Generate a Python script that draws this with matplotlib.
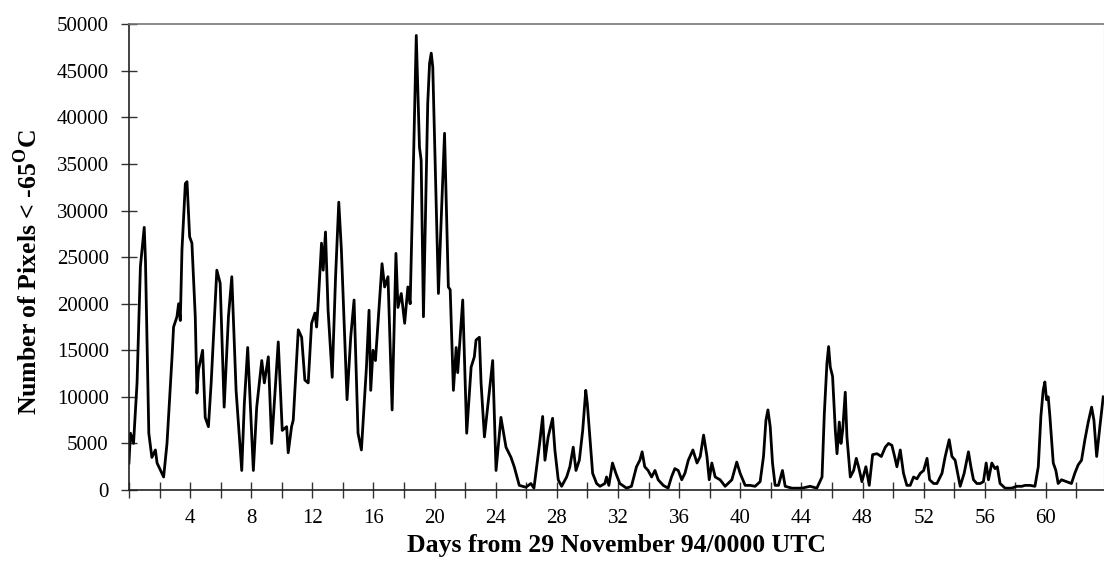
import matplotlib
matplotlib.use("Agg")
import matplotlib.pyplot as plt
from matplotlib.ticker import MultipleLocator, FixedLocator

# cold cloud pixel counts (< -65 C), days from 29 Nov 94 00 UTC
days = [
    0.0, 0.1, 0.3, 0.53, 0.75, 1.0, 1.08, 1.3, 1.5, 1.73, 1.84, 2.27, 2.49,
    2.82, 2.92, 3.14, 3.25, 3.36, 3.47, 3.69, 3.8, 3.97, 4.12, 4.34, 4.45,
    4.55, 4.82, 4.99, 5.2, 5.38, 5.75, 5.97, 6.23, 6.51, 6.73, 7.01, 7.38,
    7.55, 7.77, 7.92, 8.14, 8.36, 8.69, 8.86, 9.12, 9.34, 9.77, 10.03, 10.32,
    10.42, 10.64, 10.75, 11.08, 11.3, 11.51, 11.73, 11.95, 12.17, 12.28,
    12.38, 12.6, 12.71, 12.86, 13.03, 13.3, 13.52, 13.73, 13.9, 14.27, 14.51,
    14.73, 14.99, 15.21, 15.54, 15.71, 15.82, 15.97, 16.13, 16.56, 16.73,
    16.95, 17.22, 17.47, 17.6, 17.82, 18.04, 18.25, 18.4, 18.58, 18.8, 18.9,
    19.01, 19.12, 19.27, 19.55, 19.67, 19.78, 19.88, 20.25, 20.43, 20.65,
    20.9, 21.02, 21.23, 21.41, 21.51, 21.84, 22.1, 22.39, 22.6, 22.71, 22.93,
    23.04, 23.26, 23.54, 23.8, 24.02, 24.34, 24.67, 25.0, 25.21, 25.54,
    25.97, 26.3, 26.5, 26.87, 27.07, 27.22, 27.43, 27.72, 27.87, 28.09,
    28.31, 28.64, 28.85, 29.07, 29.25, 29.47, 29.69, 29.89, 29.99, 30.16,
    30.34, 30.6, 30.82, 31.14, 31.25, 31.4, 31.64, 31.86, 32.12, 32.56,
    32.88, 33.21, 33.43, 33.58, 33.75, 33.97, 34.2, 34.42, 34.63, 34.96,
    35.28, 35.5, 35.72, 35.94, 36.17, 36.38, 36.6, 36.9, 37.17, 37.38, 37.6,
    37.82, 37.97, 38.14, 38.36, 38.68, 39.01, 39.45, 39.77, 39.99, 40.32,
    40.64, 40.97, 41.3, 41.52, 41.68, 41.81, 41.96, 42.11, 42.28, 42.5,
    42.76, 42.94, 43.38, 44.03, 44.57, 45.01, 45.35, 45.5, 45.67, 45.78,
    45.89, 46.04, 46.22, 46.33, 46.48, 46.59, 46.7, 46.87, 46.98, 47.2,
    47.42, 47.59, 47.74, 47.96, 48.22, 48.44, 48.66, 48.95, 49.23, 49.49,
    49.7, 49.92, 50.1, 50.25, 50.47, 50.68, 50.9, 51.12, 51.34, 51.56,
    51.78, 52.0, 52.22, 52.39, 52.65, 52.87, 53.2, 53.41, 53.67, 53.85,
    54.06, 54.39, 54.65, 54.93, 55.09, 55.26, 55.48, 55.7, 55.91, 56.09,
    56.24, 56.46, 56.67, 56.82, 57.0, 57.33, 57.76, 58.09, 58.42, 58.63,
    58.96, 59.28, 59.5, 59.67, 59.82, 59.93, 60.04, 60.15, 60.26, 60.48,
    60.65, 60.8, 61.02, 61.35, 61.67, 61.89, 62.11, 62.33, 62.55, 62.77,
    62.99, 63.14, 63.32, 63.53, 63.75,
]
pixels = [
    2900, 6100, 5000, 11500, 24000, 28200, 24700, 6100, 3500, 4300, 2900,
    1400, 5000, 14300, 17500, 18600, 20000, 18200, 25800, 32900, 33100,
    27200, 26500, 18600, 10400, 12900, 15000, 7800, 6800, 11500, 23600,
    22200, 8900, 18600, 22900, 10700, 2100, 9300, 15300, 10000, 2100, 8900,
    13900, 11500, 14300, 5000, 15900, 6400, 6800, 4000, 6800, 7500, 17200,
    16400, 11800, 11500, 17900, 19000, 17500, 20000, 26500, 23600, 27700,
    19300, 12100, 22900, 30900, 25800, 9700, 16400, 20400, 6100, 4300,
    13200, 19300, 10700, 15000, 13900, 24300, 21800, 22900, 8600, 25400,
    19600, 21100, 17900, 21800, 20000, 32500, 48800, 43200, 36800, 35400,
    18600, 41500, 45800, 46900, 45400, 21100, 29000, 38300, 21800, 21500,
    10700, 15300, 12600, 20400, 6100, 13200, 14300, 16100, 16400, 11500,
    5700, 10000, 13900, 2100, 7800, 4600, 3500, 2500, 500, 300, 700, 200,
    5000, 7900, 3200, 5700, 7700, 4300, 1100, 400, 1400, 2500, 4600, 2100,
    3200, 6400, 10700, 9300, 5700, 1800, 700, 400, 700, 1400, 500, 2900,
    1800, 700, 200, 400, 2500, 3200, 4100, 2500, 2100, 1400, 2100, 1100,
    500, 200, 1400, 2300, 2100, 1100, 1800, 3200, 4300, 2900, 3600, 5900,
    3600, 1100, 2900, 1400, 1100, 400, 1100, 3000, 1800, 500, 500, 400, 900,
    3600, 7500, 8600, 6800, 2900, 500, 500, 2100, 400, 200, 200, 400, 200,
    1400, 8200, 13600, 15400, 13200, 12200, 6400, 3900, 7300, 5000, 6400,
    10500, 5700, 1400, 2100, 3400, 2500, 900, 2500, 500, 3800, 3900, 3600,
    4600, 5000, 4800, 3600, 2500, 4300, 1800, 500, 500, 1400, 1200, 1800,
    2100, 3400, 1100, 700, 700, 1800, 3600, 5400, 3600, 3200, 400, 1800,
    4100, 2500, 1100, 700, 700, 900, 2900, 1100, 2900, 2300, 2500, 700, 200,
    200, 400, 400, 500, 500, 400, 2500, 7900, 10700, 11600, 9700, 10000,
    7900, 2900, 2100, 700, 1100, 900, 700, 1800, 2700, 3200, 5400, 7300,
    8900, 7500, 3600, 6800, 10000,
]

x_labels = [4, 8, 12, 16, 20, 24, 28, 32, 36, 40, 44, 48, 52, 56, 60]

plt.rcParams["font.family"] = ["Liberation Serif", "DejaVu Serif"]
plt.rcParams["mathtext.fontset"] = "custom"
plt.rcParams["mathtext.rm"] = "Liberation Serif"
plt.rcParams["mathtext.bf"] = "Liberation Serif:bold"

fig = plt.figure(figsize=(11.04, 5.78), dpi=100)
ax = fig.add_axes([0.1168, 0.1522, 0.8832, 0.8058])

ax.plot(days, pixels, color="black", lw=2.0)

ax.set_xlim(0, 63.8)
ax.set_ylim(0, 50000)

# ticks every 2 days, labels every 4
ax.xaxis.set_major_locator(FixedLocator(x_labels))
ax.xaxis.set_minor_locator(MultipleLocator(2))
ax.yaxis.set_major_locator(MultipleLocator(5000))
ax.tick_params(axis="both", which="both", direction="inout", length=11,
               width=1.0, labelsize=15, color="#333333")
ax.tick_params(axis="x", pad=8)
ax.tick_params(axis="y", pad=9)

for side in ["left", "bottom"]:
    ax.spines[side].set_color("#222222")
    ax.spines[side].set_linewidth(1.2)
ax.spines["top"].set_color("#777777")
ax.spines["top"].set_linewidth(1.2)
ax.spines["right"].set_color("#999999")
ax.spines["right"].set_linewidth(0.8)

ax.set_xlabel("Days from 29 November 94/0000 UTC", fontsize=18.5,
              fontweight="bold")
ax.set_ylabel(r"Number of Pixels < -65$^{\mathbf{O}}$C", fontsize=18.5,
              fontweight="bold")
ax.xaxis.set_label_coords(0.5, -0.095)
ax.yaxis.set_label_coords(-0.089, 0.468)

fig.savefig("out.png", dpi=100)
